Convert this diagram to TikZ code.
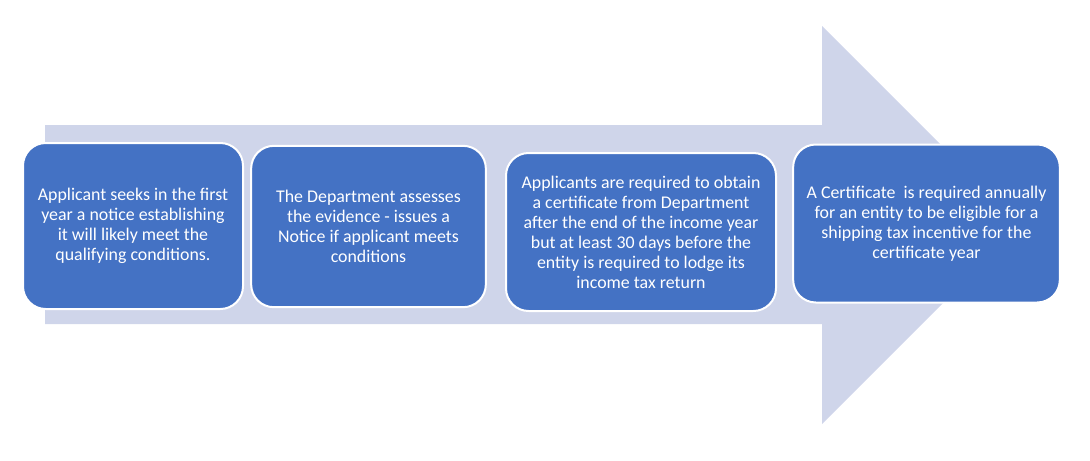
\documentclass[tikz,border=0pt]{standalone}
\usepackage{fontspec}
\setmainfont{Carlito}
\definecolor{arrowgray}{HTML}{CFD5EA}
\definecolor{boxblue}{HTML}{4472C4}
\tikzset{
  stagebox/.style={rectangle, rounded corners=17pt, fill=boxblue, draw=white, line width=1.5pt,
    text=white, align=center, inner sep=0pt, font=\fontsize{13.4}{15}\selectfont}
}
\begin{document}
\begin{tikzpicture}[x=0.75pt, y=-0.75pt]
\useasboundingbox (0,0) rectangle (1090,461);
% big arrow behind the stages
\fill [arrowgray] (45,125) -- (822,125) -- (822,26) -- (1021,225) -- (822,424) -- (822,324) -- (45,324) -- cycle;

\node [stagebox, minimum width=165pt, minimum height=124.5pt] (notice) at (133,226)
  {Applicant seeks in the first\\year a notice establishing\\it will likely meet the\\qualifying conditions.};
\node [stagebox, minimum width=176pt, minimum height=121pt] (assess) at (368.5,226.5)
  {The Department assesses\\the evidence - issues a\\Notice if applicant meets\\conditions};
\node [stagebox, minimum width=202.5pt, minimum height=118.5pt] (obtain) at (641,232)
  {Applicants are required to obtain\\a certificate from Department\\after the end of the income year\\but at least 30 days before the\\entity is required to lodge its\\income tax return};
\node [stagebox, minimum width=200pt, minimum height=118.5pt] (annual) at (926.5,223.5)
  {A Certificate~ is required annually\\for an entity to be eligible for a\\shipping tax incentive for the\\certificate year};
\end{tikzpicture}
\end{document}
